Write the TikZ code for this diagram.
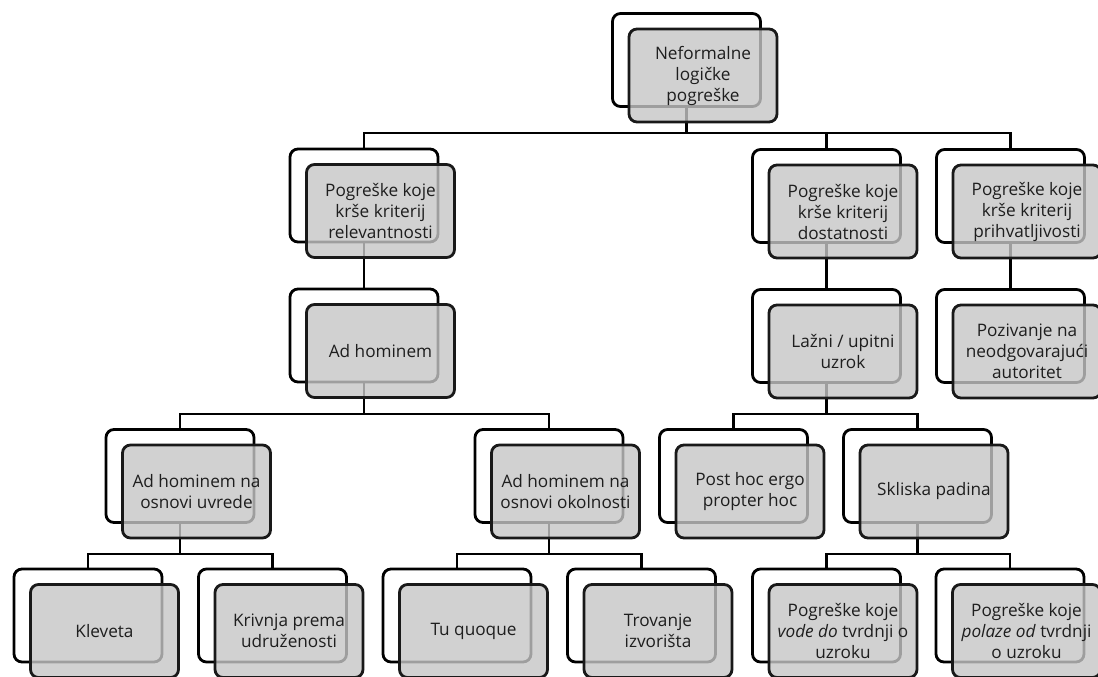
\documentclass[tikz,border=0pt]{standalone}
\usepackage{fontspec}
\setmainfont{Open Sans}
\usetikzlibrary{calc,backgrounds}
\definecolor{boxgray}{RGB}{198,198,198}
\definecolor{txt}{RGB}{30,30,30}
\tikzset{
  backbox/.style={draw=black, line width=2.1pt, fill=white, rounded corners=6pt,
    minimum width=111pt, minimum height=69.75pt, inner sep=0pt},
  frontbox/.style={draw=black!90, line width=2.1pt, fill=boxgray, fill opacity=0.8,
    text opacity=1, draw opacity=1, rounded corners=6pt, text=txt,
    minimum width=111pt, minimum height=69.75pt, inner sep=0pt, align=center,
    font=\fontsize{12.9pt}{15.75pt}\selectfont},
  conn/.style={draw=black, line width=2pt}
}
\newcommand{\pairnode}[4]{%
  \node[backbox] (#1b) at (#2,#3) {};
  \node[frontbox] (#1) at ($(#1b.center)+(16.5,15.5)$) {#4};
}
\begin{document}
\begin{tikzpicture}[x=0.75pt,y=-0.75pt]
\useasboundingbox (0,0) rectangle (1098,677);
\clip (0,0) rectangle (1098,677);
% level 1
\pairnode{top}{686.5}{60}{Neformalne\\logičke\\pogreške}
% level 2
\pairnode{rel}{364}{195.5}{Pogreške koje\\krše kriterij\\relevantnosti}
\pairnode{dost}{826.5}{196}{Pogreške koje\\krše kriterij\\dostatnosti}
\pairnode{prih}{1010.5}{196}{Pogreške koje\\krše kriterij\\prihvatljivosti}
% level 3
\pairnode{adh}{364}{335.5}{Ad hominem}
\pairnode{laz}{826.5}{336}{Lažni / upitni\\uzrok}
\pairnode{poz}{1010.5}{336}{Pozivanje na\\neodgovarajući\\autoritet}
% level 4
\pairnode{uvr}{180}{476}{Ad hominem na\\osnovi uvrede}
\pairnode{okol}{549}{476}{Ad hominem na\\osnovi okolnosti}
\pairnode{post}{733.5}{476}{Post hoc ergo\\propter hoc}
\pairnode{skl}{917.5}{476}{Skliska padina}
% level 5
\pairnode{klev}{88}{615.5}{Kleveta}
\pairnode{kriv}{272.5}{615.5}{Krivnja prema\\udruženosti}
\pairnode{tuq}{457}{615.5}{Tu quoque}
\pairnode{trov}{641.5}{615.5}{Trovanje\\izvorišta}
\pairnode{vode}{826.5}{615.5}{Pogreške koje\\\textit{vode do} tvrdnji o\\uzroku}
\pairnode{pol}{1010}{615.5}{Pogreške koje\\\textit{polaze od} tvrdnji\\o uzroku}
% connectors
\coordinate (ya) at (0,133);
\coordinate (yb) at (0,414);
\coordinate (yc) at (0,554);
\begin{pgfonlayer}{background}
\foreach \c in {rel,dost,prih}{
  \draw[conn] (topb.south) -- (topb.south |- ya) -| (\c b.north);
}
\draw[conn] (relb.south) -- (adhb.north);
\draw[conn] (dostb.south) -- (lazb.north);
\draw[conn] (prihb.south) -- (pozb.north);
\foreach \c in {uvr,okol}{
  \draw[conn] (adhb.south) -- (adhb.south |- yb) -| (\c b.north);
}
\foreach \c in {post,skl}{
  \draw[conn] (lazb.south) -- (lazb.south |- yb) -| (\c b.north);
}
\foreach \c in {klev,kriv}{
  \draw[conn] (uvrb.south) -- (uvrb.south |- yc) -| (\c b.north);
}
\foreach \c in {tuq,trov}{
  \draw[conn] (okolb.south) -- (okolb.south |- yc) -| (\c b.north);
}
\foreach \c in {vode,pol}{
  \draw[conn] (sklb.south) -- (sklb.south |- yc) -| (\c b.north);
}
\end{pgfonlayer}
\end{tikzpicture}
\end{document}
